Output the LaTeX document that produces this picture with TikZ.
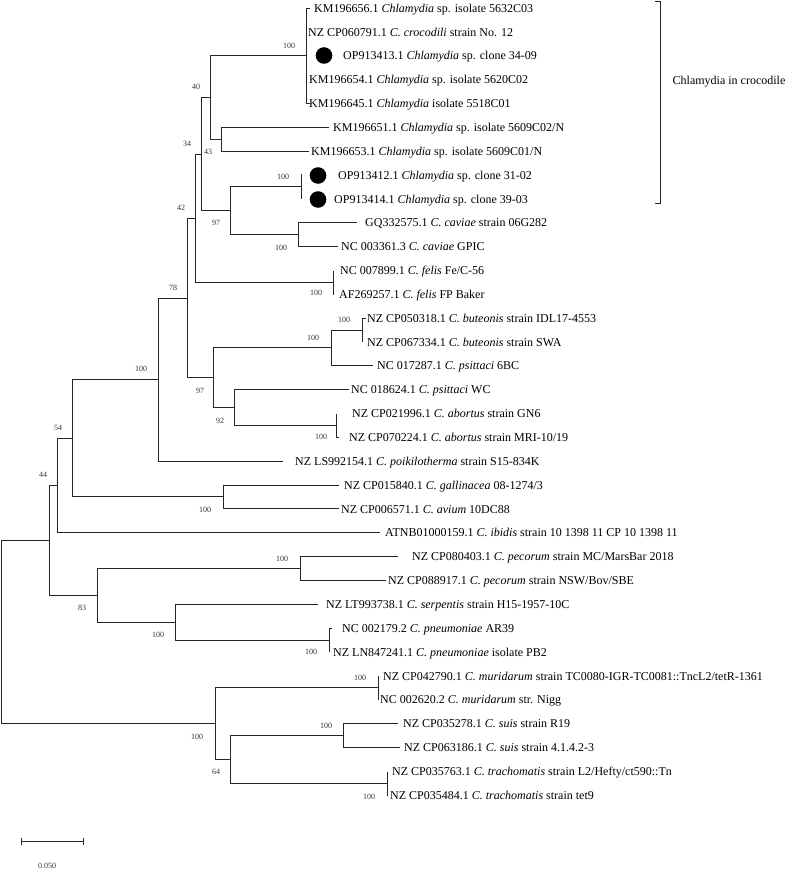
\documentclass[tikz,border=0pt]{standalone}
\usepackage{fontspec}
\setmainfont{Liberation Serif}
\usetikzlibrary{calc}
\begin{document}
\begin{tikzpicture}[x=1pt,y=-1pt,
  br/.style={line width=1.45pt, draw=black!85},
  leaf/.style={anchor=base west, inner sep=0pt, font=\fontsize{12}{14}\selectfont},
  bs/.style={inner sep=0pt, font=\fontsize{8}{9}\selectfont, text=black!80},
  dotmark/.style={circle, fill=black, inner sep=0pt, minimum size=16.6pt}]
\useasboundingbox (0,0) rectangle (784,869);
% internal nodes
\coordinate (root) at (1.5,632);
\coordinate (Na) at (49.5,540.5);
\coordinate (N44) at (57.5,485.5);
\coordinate (N54) at (72.5,438.5);
\coordinate (N100a) at (158.5,379.5);
\coordinate (N78) at (187.5,298.5);
\coordinate (N42) at (195.5,218.5);
\coordinate (N34) at (201.5,154.5);
\coordinate (N40) at (210.5,97.5);
\coordinate (Croc) at (306.5,55.5);
\coordinate (B) at (221.5,139.5);
\coordinate (N97) at (230.5,210.5);
\coordinate (C) at (301.5,186.5);
\coordinate (D) at (298.5,234.5);
\coordinate (Felis) at (333.5,282.5);
\coordinate (N97b) at (213.5,377.5);
\coordinate (Bute) at (331.5,347.5);
\coordinate (BP) at (362.5,330.5);
\coordinate (N92) at (234.5,407.5);
\coordinate (Ab) at (336.5,425.5);
\coordinate (GA) at (223.5,496.5);
\coordinate (N83) at (97.5,595.5);
\coordinate (Pec) at (300.5,568.5);
\coordinate (SP) at (175.5,622.5);
\coordinate (Pn) at (329.5,640.5);
\coordinate (N100b) at (215.5,723.5);
\coordinate (Mur) at (378.5,687.5);
\coordinate (N64) at (230.5,759.5);
\coordinate (Suis) at (343.5,735.5);
\coordinate (Trach) at (387.5,783.5);
% tips
\coordinate (t1) at (310,8.5);
\coordinate (t2) at (306.5,31.5);
\coordinate (t3) at (306.5,55.5);
\coordinate (t4) at (306.5,79.5);
\coordinate (t5) at (309.5,103.5);
\coordinate (t6) at (329,127.5);
\coordinate (t7) at (309,151.5);
\coordinate (t8) at (301.5,174.5);
\coordinate (t9) at (301.5,198.5);
\coordinate (t10) at (357,222.5);
\coordinate (t11) at (338,246.5);
\coordinate (t12) at (333.5,270.5);
\coordinate (t13) at (333.5,294.5);
\coordinate (t14) at (366,318.5);
\coordinate (t15) at (362.5,341.5);
\coordinate (t16) at (373,365.5);
\coordinate (t17) at (349,389.5);
\coordinate (t18) at (336.5,413.5);
\coordinate (t19) at (339,437.5);
\coordinate (t20) at (283,461.5);
\coordinate (t21) at (339,485.5);
\coordinate (t22) at (339,508.5);
\coordinate (t23) at (380,532.5);
\coordinate (t24) at (398,556.5);
\coordinate (t25) at (386,580.5);
\coordinate (t26) at (318,604.5);
\coordinate (t27) at (332,628.5);
\coordinate (t28) at (329.5,651.5);
\coordinate (t29) at (378.5,675.5);
\coordinate (t30) at (378.5,699.5);
\coordinate (t31) at (398,723.5);
\coordinate (t32) at (400,747.5);
\coordinate (t33) at (387.5,771.5);
\coordinate (t34) at (387.5,795.5);
% branches
\draw[br] (root) |- (Na);  \draw[br] (root) |- (N100b);
\draw[br] (Na) |- (N44);   \draw[br] (Na) |- (N83);
\draw[br] (N44) |- (N54);  \draw[br] (N44) |- (t23);
\draw[br] (N54) |- (N100a); \draw[br] (N54) |- (GA);
\draw[br] (N100a) |- (N78); \draw[br] (N100a) |- (t20);
\draw[br] (N78) |- (N42);  \draw[br] (N78) |- (N97b);
\draw[br] (N42) |- (N34);  \draw[br] (N42) |- (Felis);
\draw[br] (N34) |- (N40);  \draw[br] (N34) |- (N97);
\draw[br] (N40) |- (Croc); \draw[br] (N40) |- (B);
\draw[br] (Croc) |- (t1); \draw[br] (Croc) |- (t2); \draw[br] (Croc) |- (t3);
\draw[br] (Croc) |- (t4); \draw[br] (Croc) |- (t5);
\draw[br] (B) |- (t6); \draw[br] (B) |- (t7);
\draw[br] (N97) |- (C); \draw[br] (N97) |- (D);
\draw[br] (C) |- (t8); \draw[br] (C) |- (t9);
\draw[br] (D) |- (t10); \draw[br] (D) |- (t11);
\draw[br] (Felis) |- (t12); \draw[br] (Felis) |- (t13);
\draw[br] (N97b) |- (Bute); \draw[br] (N97b) |- (N92);
\draw[br] (Bute) |- (BP); \draw[br] (Bute) |- (t16);
\draw[br] (BP) |- (t14); \draw[br] (BP) |- (t15);
\draw[br] (N92) |- (t17); \draw[br] (N92) |- (Ab);
\draw[br] (Ab) |- (t18); \draw[br] (Ab) |- (t19);
\draw[br] (GA) |- (t21); \draw[br] (GA) |- (t22);
\draw[br] (N83) |- (Pec); \draw[br] (N83) |- (SP);
\draw[br] (Pec) |- (t24); \draw[br] (Pec) |- (t25);
\draw[br] (SP) |- (t26); \draw[br] (SP) |- (Pn);
\draw[br] (Pn) |- (t27); \draw[br] (Pn) |- (t28);
\draw[br] (N100b) |- (Mur); \draw[br] (N100b) |- (N64);
\draw[br] (Mur) |- (t29); \draw[br] (Mur) |- (t30);
\draw[br] (N64) |- (Suis); \draw[br] (N64) |- (Trach);
\draw[br] (Suis) |- (t31); \draw[br] (Suis) |- (t32);
\draw[br] (Trach) |- (t33); \draw[br] (Trach) |- (t34);
% dots
\node[dotmark] (d3) at (324,55.5) {};
\node[dotmark] (d8) at (318,175.5) {};
\node[dotmark] (d9) at (318,199.5) {};
% leaf labels
\node[leaf] (l1) at (314,12.2) {KM196656.1 \textit{Chlamydia} sp. isolate 5632C03};
\node[leaf] (l2) at (308,36.05) {NZ CP060791.1 \textit{C. crocodili} strain No. 12};
\node[leaf] (l3) at (343,59.9) {OP913413.1 \textit{Chlamydia} sp. clone 34-09};
\node[leaf] (l4) at (309,83.75) {KM196654.1 \textit{Chlamydia} sp. isolate 5620C02};
\node[leaf] (l5) at (309,107.6) {KM196645.1 \textit{Chlamydia} isolate 5518C01};
\node[leaf] (l6) at (333,131.45) {KM196651.1 \textit{Chlamydia} sp. isolate 5609C02/N};
\node[leaf] (l7) at (311,155.3) {KM196653.1 \textit{Chlamydia} sp. isolate 5609C01/N};
\node[leaf] (l8) at (338,179.15) {OP913412.1 \textit{Chlamydia} sp. clone 31-02};
\node[leaf] (l9) at (334,203.0) {OP913414.1 \textit{Chlamydia} sp. clone 39-03};
\node[leaf] (l10) at (365,226.85) {GQ332575.1 \textit{C. caviae} strain 06G282};
\node[leaf] (l11) at (341,250.7) {NC 003361.3 \textit{C. caviae} GPIC};
\node[leaf] (l12) at (340,274.55) {NC 007899.1 \textit{C. felis} Fe/C-56};
\node[leaf] (l13) at (339,298.4) {AF269257.1 \textit{C. felis} FP Baker};
\node[leaf] (l14) at (367,322.25) {NZ CP050318.1 \textit{C. buteonis} strain IDL17-4553};
\node[leaf] (l15) at (367,346.1) {NZ CP067334.1 \textit{C. buteonis} strain SWA};
\node[leaf] (l16) at (377,369.95) {NC 017287.1 \textit{C. psittaci} 6BC};
\node[leaf] (l17) at (351,393.8) {NC 018624.1 \textit{C. psittaci} WC};
\node[leaf] (l18) at (352,417.65) {NZ CP021996.1 \textit{C. abortus} strain GN6};
\node[leaf] (l19) at (349,441.5) {NZ CP070224.1 \textit{C. abortus} strain MRI-10/19};
\node[leaf] (l20) at (295,465.35) {NZ LS992154.1 \textit{C. poikilotherma} strain S15-834K};
\node[leaf] (l21) at (344,489.2) {NZ CP015840.1 \textit{C. gallinacea} 08-1274/3};
\node[leaf] (l22) at (341,513.05) {NZ CP006571.1 \textit{C. avium} 10DC88};
\node[leaf] (l23) at (385,536.9) {ATNB01000159.1 \textit{C. ibidis} strain 10 1398 11 CP 10 1398 11};
\node[leaf] (l24) at (412,560.75) {NZ CP080403.1 \textit{C. pecorum} strain MC/MarsBar 2018};
\node[leaf] (l25) at (388,584.6) {NZ CP088917.1 \textit{C. pecorum} strain NSW/Bov/SBE};
\node[leaf] (l26) at (326,608.45) {NZ LT993738.1 \textit{C. serpentis} strain H15-1957-10C};
\node[leaf] (l27) at (342,632.3) {NC 002179.2 \textit{C. pneumoniae} AR39};
\node[leaf] (l28) at (333,656.15) {NZ LN847241.1 \textit{C. pneumoniae} isolate PB2};
\node[leaf] (l29) at (383,680.0) {NZ CP042790.1 \textit{C. muridarum} strain TC0080-IGR-TC0081::TncL2/tetR-1361};
\node[leaf] (l30) at (380,703.85) {NC 002620.2 \textit{C. muridarum} str. Nigg};
\node[leaf] (l31) at (403,727.7) {NZ CP035278.1 \textit{C. suis} strain R19};
\node[leaf] (l32) at (404,751.55) {NZ CP063186.1 \textit{C. suis} strain 4.1.4.2-3};
\node[leaf] (l33) at (392,775.4) {NZ CP035763.1 \textit{C. trachomatis} strain L2/Hefty/ct590::Tn};
\node[leaf] (l34) at (390,799.25) {NZ CP035484.1 \textit{C. trachomatis} strain tet9};
% bootstrap values
\node[bs] (b1) at (289,46) {100};
\node[bs] (b2) at (196,87) {40};
\node[bs] (b3) at (187,144) {34};
\node[bs] (b4) at (208,152) {43};
\node[bs] (b5) at (283,177) {100};
\node[bs] (b6) at (181,208) {42};
\node[bs] (b7) at (216,223) {97};
\node[bs] (b8) at (281,248) {100};
\node[bs] (b9) at (316,293) {100};
\node[bs] (b10) at (173,288) {78};
\node[bs] (b11) at (344,320) {100};
\node[bs] (b12) at (313,338) {100};
\node[bs] (b13) at (141,369) {100};
\node[bs] (b14) at (200,391) {97};
\node[bs] (b15) at (220,421) {92};
\node[bs] (b16) at (321,437) {100};
\node[bs] (b17) at (58,428) {54};
\node[bs] (b18) at (43,475) {44};
\node[bs] (b19) at (205,510) {100};
\node[bs] (b20) at (282,559) {100};
\node[bs] (b21) at (82,608) {83};
\node[bs] (b22) at (158,635) {100};
\node[bs] (b23) at (311,652) {100};
\node[bs] (b24) at (360,678) {100};
\node[bs] (b25) at (197,737) {100};
\node[bs] (b26) at (326,726) {100};
\node[bs] (b27) at (216,772) {64};
\node[bs] (b28) at (369,797) {100};
% bracket
\coordinate (bt) at (655,1.5);
\coordinate (btr) at (660.5,1.5);
\coordinate (bbr) at (660.5,203.5);
\coordinate (bb) at (655,203.5);
\draw[br] (bt) -- (btr) -- (bbr) -- (bb);
\node[anchor=west, inner sep=0pt, font=\fontsize{12}{14}\selectfont] (croclab) at (672.5,82) {Chlamydia in crocodile};
% scale bar
\coordinate (sb1) at (21.5,841.5);
\coordinate (sb2) at (83.5,841.5);
\draw[br] (sb1) -- (sb2);
\draw[br] ($(sb1)+(0,-3.5)$) -- ($(sb1)+(0,3.5)$);
\draw[br] ($(sb2)+(0,-3.5)$) -- ($(sb2)+(0,3.5)$);
\node[bs] (sblab) at (47,866) {0.050};
\end{tikzpicture}
\end{document}
